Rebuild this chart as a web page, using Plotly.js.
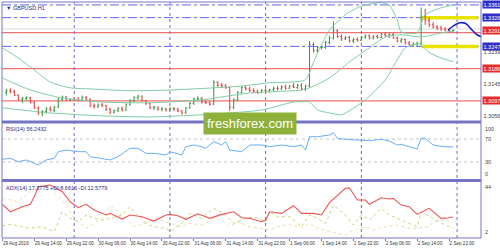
<!DOCTYPE html>
<html><head><meta charset="utf-8">
<script src="https://cdn.plot.ly/plotly-3.0.1.min.js"></script>
<style>html,body{margin:0;padding:0;background:#fff;}#chart{width:500px;height:250px;}</style>
</head><body><div id="chart"></div>
<script>
// ---- data (hours counted from 29 Aug 2016 00:00, H1 bars) ----
const chartTitle = '▼ GBPUSD,H1';
const barHours = [7,8,9,10,11,12,13,14,15,16,17,18,19,20,21,22,23,
24,25,26,27,28,29,30,31,32,33,34,35,36,37,38,39,40,41,42,43,44,45,46,47,
48,49,50,51,52,53,54,55,56,57,58,59,60,61,62,63,64,65,66,67,68,69,70,71,
72,73,74,75,76,77,78,79,80,81,82,83,84,85,86,87,88,89,90,91,92,93,94,95,
96,97,98,99,100,101,102,103,104,105,106,107,108,109,110,111,112,113,114,115,116,117,118,119];
const openP = [1.3120,1.3125,1.3122,1.3112,1.3100,1.3104,1.3106,1.3094,1.3078,1.3064,1.3068,1.3075,1.3072,1.3080,1.3102,1.3108,1.3100,
1.3101,1.3100,1.3100,1.3106,1.3102,1.3084,1.3082,1.3086,1.3084,1.3074,1.3066,1.3070,1.3076,1.3072,1.3088,1.3098,1.3106,1.3110,1.3098,1.3090,1.3078,1.3080,1.3074,1.3076,
1.3072,1.3076,1.3074,1.3070,1.3064,1.3078,1.3090,1.3102,1.3104,1.3094,1.3092,1.3088,1.3148,1.3140,1.3138,1.3134,1.3080,1.3100,1.3120,1.3134,1.3130,1.3126,1.3124,1.3120,
1.3126,1.3124,1.3128,1.3132,1.3130,1.3136,1.3132,1.3138,1.3134,1.3140,1.3130,1.3138,1.3252,1.3236,1.3244,1.3244,1.3258,1.3270,1.3290,1.3274,1.3268,1.3272,1.3262,1.3266,
1.3264,1.3272,1.3276,1.3270,1.3274,1.3272,1.3280,1.3276,1.3280,1.3270,1.3262,1.3266,1.3256,1.3252,1.3254,1.3256,1.3330,1.3318,1.3306,1.3300,1.3298,1.3294,1.3292,1.3290];
const highP = [1.3130,1.3132,1.3128,1.3115,1.3108,1.3110,1.3108,1.3096,1.3082,1.3072,1.3080,1.3082,1.3084,1.3105,1.3112,1.3110,1.3104,
1.3106,1.3108,1.3112,1.3110,1.3104,1.3090,1.3090,1.3092,1.3086,1.3078,1.3074,1.3080,1.3082,1.3090,1.3102,1.3110,1.3114,1.3112,1.3100,1.3092,1.3084,1.3082,1.3080,1.3078,
1.3080,1.3080,1.3078,1.3072,1.3080,1.3094,1.3106,1.3110,1.3108,1.3098,1.3096,1.3154,1.3152,1.3146,1.3144,1.3136,1.3104,1.3124,1.3138,1.3140,1.3136,1.3132,1.3128,1.3130,
1.3132,1.3130,1.3136,1.3138,1.3140,1.3142,1.3140,1.3146,1.3144,1.3146,1.3142,1.3262,1.3258,1.3248,1.3248,1.3262,1.3276,1.3316,1.3294,1.3280,1.3276,1.3276,1.3270,1.3272,
1.3276,1.3280,1.3280,1.3278,1.3280,1.3284,1.3286,1.3284,1.3284,1.3274,1.3270,1.3268,1.3262,1.3258,1.3260,1.3354,1.3350,1.3328,1.3314,1.3306,1.3304,1.3300,1.3296,1.3294];
const lowP = [1.3112,1.3118,1.3110,1.3098,1.3092,1.3098,1.3090,1.3075,1.3058,1.3055,1.3062,1.3068,1.3066,1.3078,1.3096,1.3098,1.3096,
1.3097,1.3096,1.3098,1.3098,1.3080,1.3076,1.3078,1.3080,1.3070,1.3060,1.3062,1.3066,1.3068,1.3070,1.3084,1.3094,1.3100,1.3096,1.3086,1.3074,1.3072,1.3070,1.3068,1.3068,
1.3070,1.3070,1.3066,1.3060,1.3062,1.3076,1.3086,1.3096,1.3090,1.3088,1.3084,1.3086,1.3136,1.3132,1.3130,1.3070,1.3074,1.3096,1.3116,1.3126,1.3122,1.3118,1.3116,1.3118,
1.3120,1.3120,1.3124,1.3126,1.3128,1.3128,1.3130,1.3132,1.3130,1.3126,1.3124,1.3134,1.3230,1.3230,1.3238,1.3240,1.3252,1.3266,1.3270,1.3262,1.3264,1.3258,1.3256,1.3260,
1.3262,1.3268,1.3266,1.3266,1.3268,1.3270,1.3272,1.3270,1.3268,1.3258,1.3256,1.3252,1.3248,1.3246,1.3248,1.3250,1.3306,1.3300,1.3296,1.3292,1.3290,1.3288,1.3286,1.3286];
const closeP = [1.3125,1.3122,1.3112,1.3100,1.3104,1.3106,1.3094,1.3078,1.3064,1.3068,1.3075,1.3072,1.3080,1.3102,1.3108,1.3100,1.3101,
1.3100,1.3100,1.3106,1.3102,1.3084,1.3082,1.3086,1.3084,1.3074,1.3066,1.3070,1.3076,1.3072,1.3088,1.3098,1.3106,1.3110,1.3098,1.3090,1.3078,1.3080,1.3074,1.3076,1.3072,
1.3076,1.3074,1.3070,1.3064,1.3078,1.3090,1.3102,1.3104,1.3094,1.3092,1.3088,1.3148,1.3140,1.3138,1.3134,1.3080,1.3100,1.3120,1.3134,1.3130,1.3126,1.3124,1.3120,1.3126,
1.3124,1.3128,1.3132,1.3130,1.3136,1.3132,1.3138,1.3134,1.3140,1.3130,1.3138,1.3252,1.3236,1.3244,1.3244,1.3258,1.3270,1.3290,1.3274,1.3268,1.3272,1.3262,1.3266,1.3264,
1.3272,1.3276,1.3270,1.3274,1.3272,1.3280,1.3276,1.3280,1.3270,1.3262,1.3266,1.3256,1.3252,1.3254,1.3256,1.3330,1.3318,1.3306,1.3300,1.3298,1.3294,1.3292,1.3290,1.3291];

// Bollinger bands (20)
const bbUpperHours = [6,10,14,18,23,28,38,48,59,66,73,82,84,86,88,92,96,101,103,105,106,110,112,116,119];
const bbUpper = [1.3243,1.3215,1.3182,1.3149,1.3133,1.3130,1.3125,1.3127,1.3133,1.3138,1.3147,1.3155,1.3204,1.3251,1.3292,1.3334,1.3358,1.3367,1.3361,1.3320,1.3287,1.3284,1.3334,1.3353,1.3361];
const bbMidHours = [6,13,21,31,43,56,68,81,83,88,93,98,102,106,111,116,119];
const bbMid = [1.3160,1.3127,1.3105,1.3094,1.3092,1.3100,1.3119,1.3127,1.3133,1.3160,1.3204,1.3243,1.3273,1.3279,1.3273,1.3284,1.3289];
const bbLowerHours = [6,18,31,43,56,71,79,83,85,88,91,97,102,105,107,110,111,113,116,119];
const bbLower = [1.3078,1.3064,1.3056,1.3053,1.3059,1.3072,1.3094,1.3094,1.3072,1.3064,1.3059,1.3100,1.3155,1.3210,1.3243,1.3254,1.3251,1.3230,1.3215,1.3205];

// projection curve
const projHours = [117.75,119.5,120.75,122.25,123.75,125,126.2];
const projPrices = [1.3292,1.3306,1.3312,1.3309,1.3292,1.3279,1.3273];

// levels
const blueLevels = [1.3361,1.3326,1.3247];
const yellowLevels = [1.3326,1.3247];
const yellowFromHour = [111];
const redLevels = [1.3285,1.3186,1.3097];
const bidLevel = [1.3295];
const daySeparators = [24,48,72,96,120];

// right axis labels
const priceLabelValues = [1.3361,1.3326,1.3291,1.3247,1.3239,1.3186,1.3145,1.3097,1.3056];
const priceLabelText = ['1.3361','1.3326','1.3291','1.3247','1.3239','1.3186','1.3145','1.3097','1.3056'];
const priceLabelKind = ['blue','blue','red','blue','plain','red','plain','red','plain'];

// RSI(14)
const rsiTitle = 'RSI(14) 56.2432';
const rsiHours = [6,8,10,12,14,15,17,19,20,22,25,27,28,31,33,35,38,40,42,44,47,48,51,52,54,56,57,59,61,62,63,66,68,71,73,76,79,81,82,83,85,88,89,90,92,95,98,101,103,105,106,110,111,112,114,115,117,119];
const rsiValues = [34.7,36.4,30.5,33.5,27.7,24.8,33.5,36.4,47.9,50.9,47.9,47.9,39.2,36.4,33.5,39.2,53.8,53.8,45.1,45.1,42.2,47.9,42.2,56.6,59.6,56.6,53.8,65.3,59.6,65.3,50.9,47.9,59.6,59.6,56.6,59.6,56.6,59.6,50.9,74.0,74.0,77.0,81.0,71.2,69.5,68.3,67.0,69.5,66.5,59.6,60.8,52.6,71.2,71.2,59.6,58.3,56.6,56.24];
const rsiLevels = [70,30];

// ADX(14)
const adxTitle = 'ADX(14) 17.3775 +DI:8.6616 -DI:12.5779';
const adxHours = [6,8,11,13,14,15,18,21,23,25,27,29,32,33,36,38,41,44,47,48,50,52,55,58,61,64,66,68,71,72,73,76,79,81,84,86,88,92,93,95,97,98,101,103,104,106,108,110,113,116,118,119];
const adxValues = [27.6,21.6,25.7,27.6,33.7,41.8,43.2,37.8,29.7,24.9,27.6,23.0,19.0,20.3,15.7,19.0,17.6,14.1,19.0,19.5,18.4,15.5,20.0,16.3,19.5,21.6,16.8,16.3,13.5,14.9,21.6,20.3,26.5,20.3,20.3,19.0,29.0,40.5,41.0,31.1,31.1,27.6,32.9,31.9,32.4,27.0,25.7,19.5,24.4,16.3,16.8,17.38];
const pdiHours = [6,8,11,13,16,18,19,21,23,25,27,29,31,33,36,38,39,42,44,47,48,51,53,56,59,62,64,67,69,72,73,75,78,81,83,85,87,88,89,92,94,96,98,101,103,105,108,110,111,114,117,119];
const pdiValues = [10.3,11.4,9.5,8.2,9.5,6.8,5.5,21.6,16.3,13.5,19.0,16.3,14.9,16.3,19.0,25.7,21.6,12.3,9.5,8.2,5.5,12.3,20.3,16.3,24.4,19.0,12.3,16.3,17.6,13.5,21.6,17.6,17.6,9.5,19.0,16.3,12.3,19.0,27.0,19.0,10.9,19.0,14.9,24.4,19.0,16.3,12.3,9.5,21.6,16.3,10.9,8.66];
const mdiHours = [6,10,13,16,18,22,24,27,29,32,33,35,37,39,42,44,47,48,51,53,56,59,61,63,65,68,70,73,75,78,81,83,85,88,92,94,97,99,102,105,108,110,113,114,117,119];
const mdiValues = [32.4,29.7,37.8,43.2,40.5,27.0,16.3,8.2,12.3,19.0,27.0,21.6,16.3,9.5,12.3,16.3,13.5,12.3,9.5,12.3,10.9,16.3,14.9,9.5,13.5,9.5,8.2,6.8,9.5,11.4,8.7,12.3,8.2,5.5,2.8,6.8,9.5,6.8,9.5,10.9,8.2,8.2,9.5,13.5,14.9,12.58];

// x tick labels
const tickHours = [6,14,22,30,38,46,54,62,70,78,86,94,102,110,118];
const tickLabels = ['29 Aug 2016','29 Aug 14:00','29 Aug 22:00','30 Aug 06:00','30 Aug 14:00','30 Aug 22:00','31 Aug 06:00','31 Aug 14:00','31 Aug 22:00','1 Sep 06:00','1 Sep 14:00','1 Sep 22:00','2 Sep 06:00','2 Sep 14:00','2 Sep 22:00'];
const watermark = 'freshforex.com';

// ---- styles ----
const FONT = 'Liberation Sans, Arial, sans-serif';
const FRAME = '#7474c4';
const BB_COL = '#80cca6';

const traces = [
  {type:'scatter',mode:'lines',x:bbUpperHours,y:bbUpper,line:{color:BB_COL,width:1,shape:'spline',smoothing:0.6},xaxis:'x',yaxis:'y',hoverinfo:'skip'},
  {type:'scatter',mode:'lines',x:bbMidHours,y:bbMid,line:{color:BB_COL,width:1,shape:'spline',smoothing:0.6},xaxis:'x',yaxis:'y',hoverinfo:'skip'},
  {type:'scatter',mode:'lines',x:bbLowerHours,y:bbLower,line:{color:BB_COL,width:1,shape:'spline',smoothing:0.6},xaxis:'x',yaxis:'y',hoverinfo:'skip'},
  {type:'ohlc',x:barHours,open:openP,high:highP,low:lowP,close:closeP,xaxis:'x',yaxis:'y',tickwidth:0.3,
   increasing:{line:{color:'#2f9a3a',width:1}},decreasing:{line:{color:'#e53b3b',width:1}},hoverinfo:'skip'},
  {type:'scatter',mode:'lines',x:projHours,y:projPrices,line:{color:'#1f22b8',width:1.6,shape:'spline'},xaxis:'x',yaxis:'y',hoverinfo:'skip'},
  {type:'scatter',mode:'lines',x:rsiHours,y:rsiValues,line:{color:'#6aaef5',width:1},xaxis:'x',yaxis:'y2',hoverinfo:'skip'},
  {type:'scatter',mode:'lines',x:mdiHours,y:mdiValues,line:{color:'#f3d9ae',width:1,dash:'dot'},xaxis:'x',yaxis:'y3',hoverinfo:'skip'},
  {type:'scatter',mode:'lines',x:pdiHours,y:pdiValues,line:{color:'#bcd97a',width:1,dash:'dot'},xaxis:'x',yaxis:'y3',hoverinfo:'skip'},
  {type:'scatter',mode:'lines',x:adxHours,y:adxValues,line:{color:'#f05555',width:1.1},xaxis:'x',yaxis:'y3',hoverinfo:'skip'}
];

const shapes = [];
yellowLevels.forEach(v=>shapes.push({type:'line',xref:'x',yref:'y',x0:yellowFromHour[0],x1:125.3,y0:v,y1:v,line:{color:'#e8e400',width:3.5},layer:'below'}));
bidLevel.forEach(v=>shapes.push({type:'line',xref:'paper',yref:'y',x0:0,x1:1,y0:v,y1:v,line:{color:'#d6d6d6',width:1},layer:'below'}));
blueLevels.forEach(v=>shapes.push({type:'line',xref:'paper',yref:'y',x0:0,x1:1,y0:v,y1:v,line:{color:'#6565ee',width:1,dash:'dashdot'},layer:'below'}));
redLevels.forEach(v=>shapes.push({type:'line',xref:'paper',yref:'y',x0:0,x1:1,y0:v,y1:v,line:{color:'#f27272',width:1.2},layer:'below'}));
rsiLevels.forEach(v=>shapes.push({type:'line',xref:'paper',yref:'y2',x0:0,x1:1,y0:v,y1:v,line:{color:'#c4c4c4',width:1,dash:'dot'},layer:'below'}));
daySeparators.forEach(h=>shapes.push({type:'line',xref:'x',yref:'paper',x0:h,x1:h,y0:0,y1:1,line:{color:'#6a6acc',width:1,dash:'dot'},layer:'below'}));
shapes.push({type:'rect',xref:'paper',yref:'paper',x0:0,x1:1,y0:0,y1:1,line:{color:FRAME,width:1}});
shapes.push({type:'line',xref:'paper',yref:'paper',x0:0,x1:1,y0:0.4915,y1:0.4915,line:{color:FRAME,width:3}});
shapes.push({type:'line',xref:'paper',yref:'paper',x0:0,x1:1,y0:0.2436,y1:0.2436,line:{color:FRAME,width:3}});

const annotations = [];
priceLabelValues.forEach((v,i)=>{
  const k = priceLabelKind[i];
  const shift = (priceLabelText[i]==='1.3239') ? -2 : 0;
  annotations.push({xref:'paper',yref:'y',x:1,y:v,xanchor:'left',yanchor:'middle',xshift:1,yshift:shift,showarrow:false,
    text:priceLabelText[i],font:{family:FONT,size:5.5,color:k==='plain'?'#444':'#fff'},
    bgcolor:k==='blue'?'#2f2fc8':(k==='red'?'#e52a2a':'rgba(0,0,0,0)'),borderpad:0.5});
});
const sideLabels = [['100',0.485,'top'],['70',(238-139)/236,'middle'],['30',(238-162)/236,'middle'],['0',0.25,'bottom'],['44',0.236,'top'],['2',0.006,'bottom']];
sideLabels.forEach(s=>annotations.push({xref:'paper',yref:'paper',x:1,y:s[1],xanchor:'left',yanchor:s[2],xshift:2,showarrow:false,text:s[0],font:{family:FONT,size:5.5,color:'#444'}}));
annotations.push({xref:'paper',yref:'paper',x:0,y:0.997,xanchor:'left',yanchor:'top',xshift:2,showarrow:false,text:chartTitle,font:{family:FONT,size:5.5,color:'#2a2a80'}});
annotations.push({xref:'paper',yref:'paper',x:0,y:0.484,xanchor:'left',yanchor:'top',xshift:2,showarrow:false,text:rsiTitle,font:{family:FONT,size:5.5,color:'#2a2a80'}});
annotations.push({xref:'paper',yref:'paper',x:0,y:0.234,xanchor:'left',yanchor:'top',xshift:2,showarrow:false,text:adxTitle,font:{family:FONT,size:5.5,color:'#2a2a80'}});
annotations.push({xref:'paper',yref:'paper',x:0.5177,y:0.487,xanchor:'center',yanchor:'middle',showarrow:false,text:watermark,
  font:{family:FONT,size:13,color:'#ffffff'},bgcolor:'#8db13a',borderpad:3});

const layout = {
  width:500,height:250,margin:{l:2,r:19,t:2,b:12},
  paper_bgcolor:'#fff',plot_bgcolor:'#fff',showlegend:false,
  font:{family:FONT,size:5,color:'#333'},
  xaxis:{domain:[0,1],range:[5.9,126],anchor:'y3',showgrid:false,zeroline:false,showline:false,
    tickmode:'array',tickvals:tickHours,ticktext:tickLabels,ticks:'outside',ticklen:2,tickcolor:FRAME,tickangle:0,
    ticklabelposition:'outside right',tickfont:{family:FONT,size:4.6,color:'#333'},rangeslider:{visible:false}},
  yaxis:{domain:[0.496,1],range:[1.3042,1.3369],anchor:'x',showgrid:false,zeroline:false,showticklabels:false},
  yaxis2:{domain:[0.246,0.487],range:[-1.3,97.8],anchor:'x',showgrid:false,zeroline:false,showticklabels:false},
  yaxis3:{domain:[0,0.237],range:[0.4,45.6],anchor:'x',showgrid:false,zeroline:false,showticklabels:false},
  shapes:shapes,annotations:annotations
};
Plotly.newPlot('chart',traces,layout,{staticPlot:true,displayModeBar:false});
</script></body></html>
